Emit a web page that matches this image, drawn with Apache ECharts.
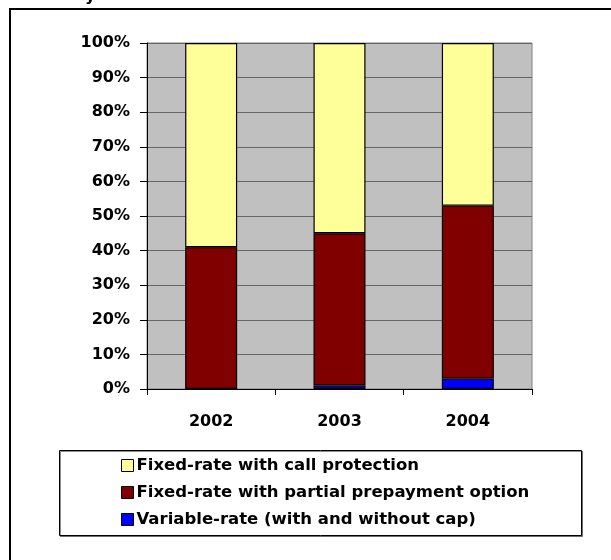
<!DOCTYPE html>
<html>
<head>
<meta charset="utf-8">
<script src="https://cdn.jsdelivr.net/npm/echarts@6/dist/echarts.min.js"></script>
<style>
  html, body { margin: 0; padding: 0; background: #ffffff; }
  #chart { width: 611px; height: 560px; }
</style>
</head>
<body>
<div id="chart"></div>
<script>
// Loan shares by year (percent of total)
const years = ['2002', '2003', '2004'];
const seriesNames = [
  'Fixed-rate with call protection',
  'Fixed-rate with partial prepayment option',
  'Variable-rate (with and without cap)'
];
const variableRate = [0, 1, 3];
const partialPrepayment = [41, 44, 50];
const callProtection = [59, 55, 47];
const seriesColors = ['#FFFF99', '#800000', '#0000FF'];

const FONT = 'DejaVu Sans';

const chart = echarts.init(document.getElementById('chart'), null, { renderer: 'canvas' });

function barSeries(name, values, color) {
  return {
    name: name,
    type: 'bar',
    stack: 'total',
    barWidth: 52,
    data: values,
    itemStyle: { color: color, borderColor: '#000000', borderWidth: 1.2 },
    emphasis: { disabled: true }
  };
}

chart.setOption({
  animation: false,
  backgroundColor: '#ffffff',
  grid: {
    left: 147, top: 43, width: 385, height: 346,
    show: true, backgroundColor: '#C0C0C0', borderColor: '#808080', borderWidth: 1
  },
  xAxis: {
    type: 'category',
    data: years,
    axisLine: { lineStyle: { color: '#000000', width: 1 } },
    axisTick: { show: true, length: 6, alignWithLabel: false, lineStyle: { color: '#000000' } },
    axisLabel: { color: '#000000', fontFamily: FONT, fontWeight: 'bold', fontSize: 16, margin: 25 },
    splitLine: { show: false }
  },
  yAxis: {
    type: 'value',
    min: 0, max: 100, interval: 10,
    axisLine: { show: true, lineStyle: { color: '#000000', width: 1 } },
    axisTick: { show: true, length: 7, lineStyle: { color: '#000000' } },
    axisLabel: { formatter: '{value}%', color: '#000000', fontFamily: FONT, fontWeight: 'bold', fontSize: 16, margin: 17 },
    splitLine: { show: true, lineStyle: { color: '#666666', width: 1 } }
  },
  legend: {
    orient: 'vertical',
    left: 116, top: 452,
    data: seriesNames,
    icon: 'rect',
    itemWidth: 12, itemHeight: 12, itemGap: 10,
    itemStyle: { borderColor: '#000000', borderWidth: 1 },
    textStyle: { color: '#000000', fontFamily: FONT, fontWeight: 'bold', fontSize: 16.5, lineHeight: 16, padding: [0, 0, 0, -2] },
    selectedMode: false
  },
  graphic: [
    {
      type: 'rect', z: -1, silent: true,
      shape: { x: 10, y: 9, width: 620, height: 600 },
      style: { fill: 'none', stroke: '#000000', lineWidth: 2 }
    },
    {
      type: 'rect', z: -1, silent: true,
      shape: { x: 59.5, y: 450.5, width: 522, height: 85 },
      style: { fill: '#ffffff', stroke: '#000000', lineWidth: 1, shadowColor: 'rgba(0,0,0,0.45)', shadowOffsetX: 1, shadowOffsetY: 1, shadowBlur: 0 }
    },
    {
      type: 'text', silent: true,
      style: { x: 85, y: 5, text: 'y', fill: '#000000', font: 'bold 16px "DejaVu Sans"', verticalAlign: 'bottom' }
    }
  ],
  series: [
    barSeries(seriesNames[2], variableRate, seriesColors[2]),
    barSeries(seriesNames[1], partialPrepayment, seriesColors[1]),
    barSeries(seriesNames[0], callProtection, seriesColors[0])
  ]
});
</script>
</body>
</html>
